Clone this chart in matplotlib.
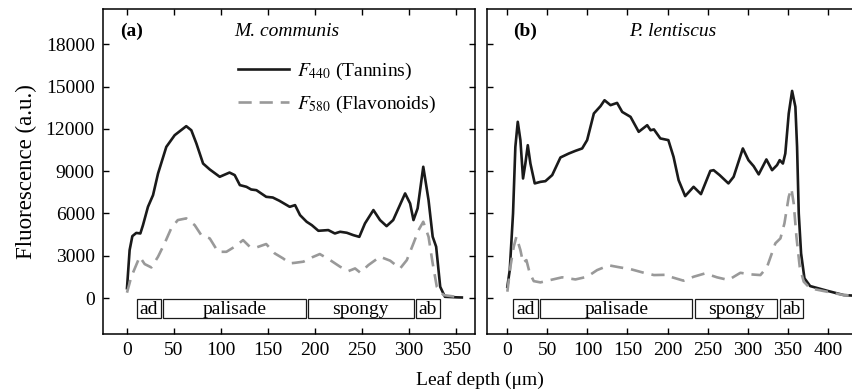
import matplotlib
matplotlib.use("Agg")
import matplotlib.pyplot as plt
from matplotlib.patches import Rectangle
from matplotlib.lines import Line2D

plt.rcParams['font.family'] = ['Liberation Serif', 'DejaVu Serif']
plt.rcParams['mathtext.fontset'] = 'stix'

# panel (a): M. communis
depth_a_tan = [0, 2.8, 5.7, 9.9, 14.2, 17, 22.3, 27.7, 33, 41.8, 50.7, 63, 68.4, 73.8, 80.9,
               88, 98.6, 109, 114.5, 120, 127, 132, 137.6, 148, 155, 162, 173, 178.7, 184,
               191, 196.5, 203.5, 214, 221, 226.6, 233.7, 240.7, 247, 253, 262, 269, 276,
               283, 295.7, 301, 304.6, 309, 315, 320.6, 325, 328.7, 333, 338, 350.7, 356]
tan_a = [700, 3400, 4390, 4620, 4580, 5170, 6470, 7300, 8830, 10720, 11550, 12190, 11900,
         10960, 9540, 9120, 8600, 8900, 8720, 8010, 7890, 7700, 7650, 7180, 7130, 6900, 6470,
         6590, 5880, 5410, 5170, 4770, 4820, 4580, 4700, 4630, 4460, 4340, 5290, 6240, 5530,
         5100, 5530, 7420, 6710, 5530, 6360, 9310, 6950, 4350, 3640, 800, 90, 50, 40]

depth_a_fla = [0, 4.6, 13.5, 18.8, 25.9, 33, 40, 47, 54, 63, 72, 79, 88, 96.8, 105.7, 114.5,
               123.4, 130.5, 137.6, 148, 157, 166, 173, 178.7, 187.6, 196.5, 205, 216, 226.6,
               235.4, 242.5, 248, 256.7, 269, 279.8, 290.4, 297.5, 304.6, 310, 315, 320.6,
               325, 329.4, 336.5, 354]
fla_a = [380, 1510, 2930, 2410, 2170, 2930, 3880, 4940, 5530, 5650, 5170, 4460, 4230, 3280,
         3280, 3640, 4110, 3640, 3590, 3830, 3170, 2810, 2460, 2500, 2580, 2880, 3120, 2690,
         2220, 1910, 2100, 1800, 2340, 2930, 2650, 2100, 2690, 3880, 4820, 5410, 4350, 2460,
         800, 210, 50]

# panel (b): P. lentiscus
depth_b_tan = [0, 3, 7.1, 10, 13, 16.3, 19.6, 22.5, 25.5, 28.8, 34.2, 41.3, 47.5, 56, 66.3,
               76.7, 85, 93.4, 99.6, 108, 116.3, 121.3, 128.8, 137, 143.4, 153.8, 164, 174.6,
               178.8, 183, 191, 201, 207.5, 213.8, 222, 232.5, 241.7, 253.4, 257.5, 265, 276,
               282.5, 294, 301, 307.5, 313.8, 323.4, 330.5, 336.7, 340, 344, 347, 351.3, 355.5,
               359.6, 361.7, 363.8, 366.7, 370.9, 378, 399, 420, 445]
tan_b = [800, 1980, 6000, 10720, 12500, 11200, 8480, 9540, 10840, 9540, 8130, 8240, 8290,
         8720, 9970, 10250, 10440, 10610, 11200, 13090, 13610, 14030, 13680, 13840, 13200,
         12850, 11790, 12260, 11900, 11960, 11320, 11200, 10010, 8360, 7230, 7890, 7370,
         9020, 9070, 8720, 8130, 8600, 10610, 9780, 9350, 8770, 9830, 9070, 9430, 9780, 9540,
         10250, 13090, 14690, 13560, 10720, 6000, 3170, 1400, 850, 520, 210, 130]

depth_b_fla = [0, 3.8, 8, 11.3, 16.3, 19.6, 23.8, 28, 33, 41.3, 53.8, 68.4, 85, 99.6, 112,
               126.7, 141, 153.8, 170.5, 183, 199.6, 203.4, 220, 232.5, 247, 261.7, 276,
               290.9, 303.4, 315.9, 324, 334.6, 340.9, 345.9, 351.3, 354.6, 357.5, 360.9, 365,
               370, 378, 399, 420, 445]
fla_b = [450, 2220, 3640, 4350, 3400, 2500, 2690, 1750, 1200, 1110, 1280, 1470, 1320, 1510,
         1980, 2320, 2170, 2050, 1790, 1630, 1650, 1510, 1230, 1510, 1750, 1470, 1280, 1790,
         1680, 1630, 2170, 3880, 4230, 5290, 7180, 7770, 6710, 4350, 2220, 1160, 690, 450,
         210, 130]

# tissue layers (start, end, name)
layers_a = [(11, 36, "ad"), (38, 190, "palisade"), (192, 305, "spongy"), (307, 333, "ab")]
layers_b = [(7.5, 38, "ad"), (41, 231, "palisade"), (234.5, 337, "spongy"), (340, 369, "ab")]

yticks = [0, 3000, 6000, 9000, 12000, 15000, 18000]
xticks_a = [0, 50, 100, 150, 200, 250, 300, 350]
xticks_b = [0, 50, 100, 150, 200, 250, 300, 350, 400]

black = "#1a1a1a"
grey = "#999999"
fs = 14

fig = plt.figure(figsize=(8.52, 3.91), dpi=100)
ax_a = fig.add_axes([103/852, 57/391, 372/852, 325/391])
ax_b = fig.add_axes([487/852, 57/391, 380/852, 325/391])


def draw_panel(ax, d_t, t, d_f, f, layers, xticks, xlim):
    ax.plot(d_t, t, color=black, lw=1.9, solid_joinstyle='round')
    ax.plot(d_f, f, color=grey, lw=1.9, dashes=(5, 3))
    for x0, x1, name in layers:
        ax.add_patch(Rectangle((x0, -1450), x1 - x0, 1370, fill=False,
                               edgecolor=black, lw=0.9))
        ax.text((x0 + x1) / 2, -800, name, ha='center', va='center', fontsize=fs)
    ax.set_xlim(*xlim)
    ax.set_ylim(-2550, 20500)
    ax.set_xticks(xticks)
    ax.set_yticks(yticks)
    ax.tick_params(direction='in', top=True, right=True, length=4.5, width=1,
                   labelsize=fs, pad=6)
    for s in ax.spines.values():
        s.set_linewidth(1.1)


draw_panel(ax_a, depth_a_tan, tan_a, depth_a_fla, fla_a, layers_a, xticks_a, (-25.5, 370))
draw_panel(ax_b, depth_b_tan, tan_b, depth_b_fla, fla_b, layers_b, xticks_b, (-25.4, 449))
ax_b.set_yticklabels([])

ax_a.text(0.046, 0.93, "(a)", transform=ax_a.transAxes, fontsize=fs, fontweight='bold',
          va='center')
ax_a.text(0.495, 0.93, "M. communis", transform=ax_a.transAxes, fontsize=fs,
          style='italic', ha='center', va='center')
ax_b.text(0.07, 0.93, "(b)", transform=ax_b.transAxes, fontsize=fs, fontweight='bold',
          va='center')
ax_b.text(0.49, 0.93, "P. lentiscus", transform=ax_b.transAxes, fontsize=fs,
          style='italic', ha='center', va='center')

handles = [Line2D([], [], color=black, lw=1.9),
           Line2D([], [], color=grey, lw=1.9, dashes=(5, 3))]
ax_a.legend(handles, [r"$F_{440}$ (Tannins)", r"$F_{580}$ (Flavonoids)"],
            loc='upper left', bbox_to_anchor=(0.342, 0.865), frameon=False,
            borderaxespad=0, fontsize=fs, handlelength=2.6, labelspacing=0.6,
            handletextpad=0.45)

ax_a.set_ylabel("Fluorescence (a.u.)", fontsize=16.5, labelpad=6)
fig.text(480/852, 1 - 380/391, "Leaf depth (\u03bcm)", ha='center', va='center',
         fontsize=fs)

fig.savefig("out.png", dpi=100)
